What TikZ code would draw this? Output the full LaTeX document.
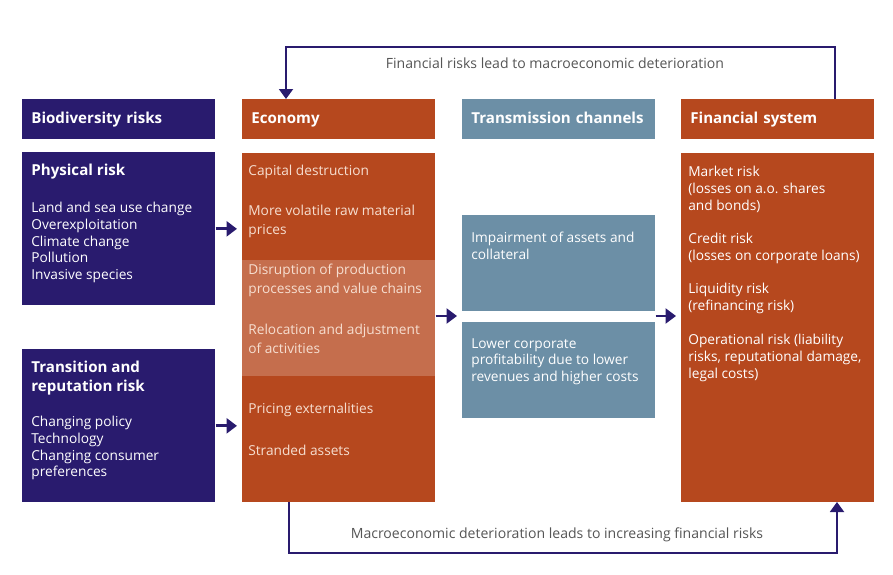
\documentclass[tikz,border=0pt]{standalone}
\usepackage{fontspec}
\setmainfont{Open Sans}
\usetikzlibrary{positioning}
\usetikzlibrary{arrows.meta}
\definecolor{navy}{RGB}{41,27,110}
\definecolor{rust}{RGB}{182,72,30}
\definecolor{lightrust}{RGB}{197,110,77}
\definecolor{steel}{RGB}{108,143,166}
\definecolor{labelgray}{RGB}{85,85,85}
\definecolor{cream}{RGB}{246,222,208}
\tikzset{
    Head/.style = {rectangle, anchor=north west, inner xsep=0.18cm, inner ysep=0pt,
        text width=3.5cm, text height=0.72em, text depth=0.22em, minimum height=0.8cm,
        align=left, text=white, font=\fontsize{8.6}{10}\selectfont\bfseries}
}
\tikzset{
    Box/.style = {rectangle, anchor=north west, inner sep=0pt, minimum width=3.86cm}
}
\tikzset{
    Txt/.style = {anchor=west, align=left, inner sep=0pt, text=white,
        font=\fontsize{7.8}{9.5}\selectfont}
}
\tikzset{
    Edge/.style = {draw=navy, line width=1.7pt, -{Triangle[width=0.3cm,length=0.21cm]}, shorten >=0.1cm}
}
\tikzset{
    Loop/.style = {draw=navy, line width=1.1pt, -{Triangle[width=0.28cm,length=0.2cm]}}
}

\begin{document}
\begin{tikzpicture}[x=0.02cm, y=-0.02cm]
\useasboundingbox (0,0) rectangle (893,575);

% headers
\node[Head, fill=navy] at (22,99) (hbio) {Biodiversity risks};
\node[Head, fill=rust] at (242,99) (heco) {Economy};
\node[Head, fill=steel] at (462,99) (htra) {Transmission channels};
\node[Head, fill=rust] at (681,99) (hfin) {Financial system};

% boxes
\node[Box, fill=navy, minimum height=3.06cm] at (22,152) (phys) {};
\node[Box, fill=navy, minimum height=3.06cm] at (22,349) (trans) {};
\node[Box, fill=rust, minimum height=2.14cm] at (242,153) (eco1) {};
\node[Box, fill=lightrust, minimum height=2.32cm] at (242,260) (eco2) {};
\node[Box, fill=rust, minimum height=2.52cm] at (242,376) (eco3) {};
\node[Box, fill=steel, minimum height=1.92cm] at (462,215) (tra1) {};
\node[Box, fill=steel, minimum height=1.92cm] at (462,322) (tra2) {};
\node[Box, fill=rust, minimum height=6.98cm] at (681,153) (fin) {};

% texts
\node[Txt, font=\fontsize{8.6}{10}\selectfont\bfseries] at (31,172) (tphys) {Physical risk};
\node[Txt, anchor=north west] at (31,202) (lphys) {Land and sea use change\\Overexploitation\\Climate change\\Pollution\\Invasive species};
\node[Txt, anchor=north west, font=\fontsize{8.6}{10.6}\selectfont\bfseries] at (31,361) (ttrans) {Transition and\\reputation risk};
\node[Txt, anchor=north west] at (31,416) (ltrans) {Changing policy\\Technology\\Changing consumer\\preferences};

\node[Txt, text=cream] at (248,172) (capital) {Capital destruction};
\node[Txt, text=cream, anchor=north west, font=\fontsize{7.8}{10.8}\selectfont] at (248,205) (volatile) {More volatile raw material\\prices};
\node[Txt, text=cream, anchor=north west, font=\fontsize{7.8}{10.8}\selectfont] at (248,264) (disrupt) {Disruption of production\\processes and value chains};
\node[Txt, text=cream, anchor=north west, font=\fontsize{7.8}{10.8}\selectfont] at (248,324) (reloc) {Relocation and adjustment\\of activities};
\node[Txt, text=cream] at (248,410) (pricing) {Pricing externalities};
\node[Txt, text=cream] at (248,450) (stranded) {Stranded assets};

\node[Txt, anchor=north west] at (471,232) (impair) {Impairment of assets and\\collateral};
\node[Txt, anchor=north west] at (471,338) (lower) {Lower corporate\\profitability due to lower\\revenues and higher costs};

\node[Txt, anchor=north west] at (688,166) (market) {Market risk\\(losses on a.o. shares\\and bonds)};
\node[Txt, anchor=north west] at (688,233) (credit) {Credit risk\\(losses on corporate loans)};
\node[Txt, anchor=north west] at (688,283) (liquid) {Liquidity risk\\(refinancing risk)};
\node[Txt, anchor=north west] at (688,334) (oper) {Operational risk (liability\\risks, reputational damage,\\legal costs)};

% arrows between columns
\coordinate (gap) at (462,316);
\path (phys.east) edge [Edge] (phys.east -| eco1.west);
\path (trans.east) edge [Edge] (trans.east -| eco3.west);
\path (gap -| eco2.east) edge [Edge] (gap);
\path (gap -| tra1.east) edge [Edge] (gap -| fin.west);

% feedback loops
\coordinate (ftop) at (835,99);
\coordinate (etop) at (286,99);
\coordinate (ebot) at (289,502);
\coordinate (fbot) at (837,502);
\draw[Loop] (ftop) -- (835,47) -| (etop);
\draw[Loop] (ebot) -- (289,553) -| (fbot);
\node[text=labelgray, font=\fontsize{8}{10}\selectfont] at (555,63) (upper) {Financial risks lead to macroeconomic deterioration};
\node[text=labelgray, font=\fontsize{8}{10}\selectfont] at (557,535) (downer) {Macroeconomic deterioration leads to increasing financial risks};
\end{tikzpicture}
\end{document}
